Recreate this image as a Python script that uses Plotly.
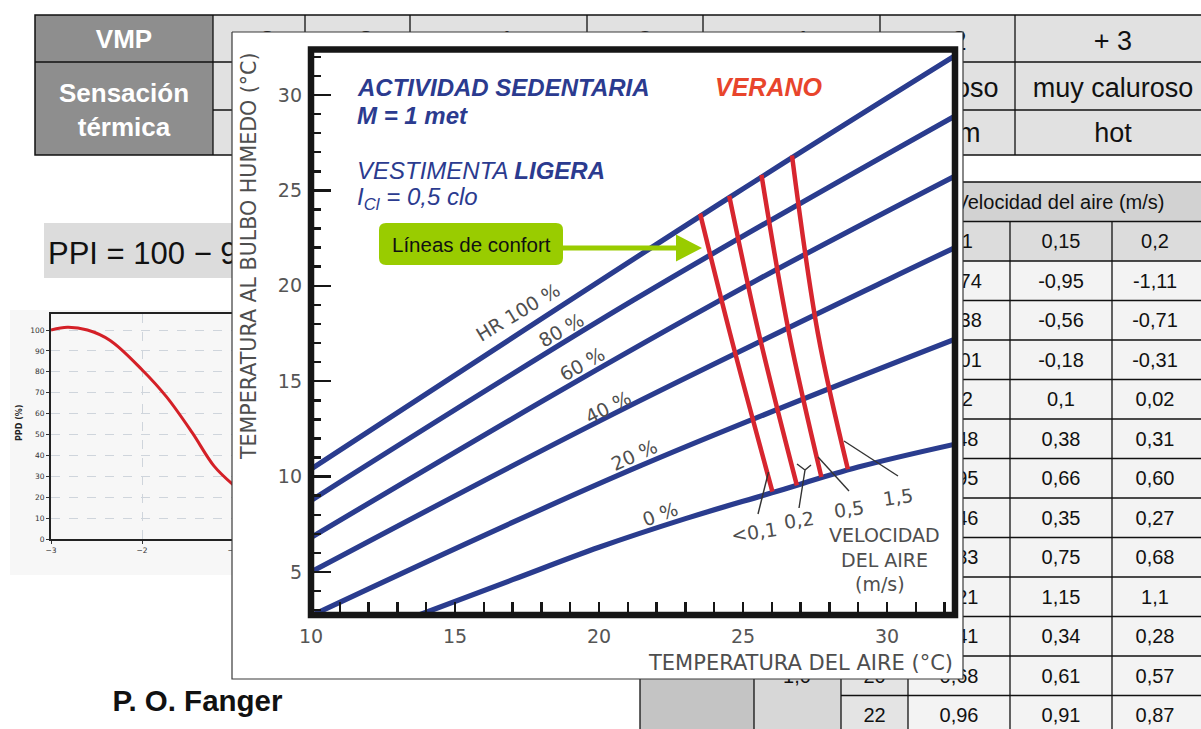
import plotly.graph_objects as go

W, H = 1201, 729

# ---------------- DATA ----------------
# top table (VMP / sensación térmica)
vmp_values = ["- 3", "- 2", "- 1", "0", "+ 1", "+ 2", "+ 3"]
sensacion_es = ["", "", "", "", "", "caluroso", "muy caluroso"]
sensacion_en = ["", "", "", "", "", "warm", "hot"]
ppi_text = "PPI = 100 − 9"

# PPD vs PMV curve (Fanger)
pmv = [-3.0, -2.82, -2.6, -2.35, -2.0, -1.73, -1.45, -1.21, -1.0]
ppd = [100, 101.3, 100, 95, 81, 68, 51, 35, 26]
ppd_yticks = [0, 10, 20, 30, 40, 50, 60, 70, 80, 90, 100]
ppd_xticks = [-3, -2, -1, 0, 1, 2, 3]

# right table: PMV by air velocity
vel_cols = ["0,1", "0,15", "0,2"]
pmv_v010 = ["-0,74", "-0,38", "-0,01", "0,2", "0,48", "0,95", "0,46", "0,83", "1,21", "0,41", "0,68", "0,96"]
pmv_v015 = ["-0,95", "-0,56", "-0,18", "0,1", "0,38", "0,66", "0,35", "0,75", "1,15", "0,34", "0,61", "0,91"]
pmv_v020 = ["-1,11", "-0,71", "-0,31", "0,02", "0,31", "0,60", "0,27", "0,68", "1,1", "0,28", "0,57", "0,87"]
temp_rows = ["20", "22"]
clo_value = "1,0"

# comfort chart: relative humidity lines (air temp -> wet bulb temp)
hr_labels = ["HR 100 %", "80 %", "60 %", "40 %", "20 %", "0 %"]
hr100_x = [10, 24.5, 32.36]
hr100_y = [10.4, 24.6, 32.05]
hr80_x = [10, 21.2, 32.36]
hr80_y = [8.75, 19.25, 28.9]
hr60_x = [10, 19, 25.49, 32.36]
hr60_y = [6.81, 14.8, 20.3, 25.75]
hr40_x = [10, 20, 30, 32.36]
hr40_y = [5.0, 12.9, 20.3, 22.0]
hr20_x = [10, 21.1, 32.36]
hr20_y = [2.71, 10.35, 17.2]
hr0_x = [13.75, 17, 20, 23, 26, 29, 32.36]
hr0_y = [2.75, 4.6, 6.3, 7.8, 9.15, 10.5, 11.7]

# comfort lines per air velocity
vel_labels = ["<0,1", "0,2", "0,5", "1,5"]
c01_x = [23.51, 24.55, 26.02]
c01_y = [23.78, 17.5, 9.21]
c02_x = [24.52, 25.55, 26.87]
c02_y = [24.72, 17.5, 9.54]
c05_x = [25.64, 26.6, 27.72]
c05_y = [25.81, 17.5, 9.98]
c15_x = [26.70, 27.6, 28.64]
c15_y = [26.83, 17.5, 10.39]

x_ticks = [10, 15, 20, 25, 30]
y_ticks = [5, 10, 15, 20, 25, 30]

# ---------------- STYLE ----------------
TF = "Liberation Sans, Arial, sans-serif"
CF = "DejaVu Sans, sans-serif"
BLUE = "#2a3c8e"
RED = "#d7262f"
NAVY = "#2b3b8f"
GRAY = "#4e4e4e"

fig = go.Figure()
shapes = []
annotations = []


def text_tr(xs, ys, texts, size, color="#111", family=TF, pos="middle center"):
    fig.add_trace(go.Scatter(x=xs, y=ys, text=texts, mode="text", textposition=pos,
                             textfont=dict(size=size, color=color, family=family),
                             hoverinfo="skip", showlegend=False, xaxis="x", yaxis="y",
                             cliponaxis=False))


def rect(x0, y0, x1, y1, fill=None, line=None, lw=1.2, layer="below"):
    shapes.append(dict(type="rect", xref="x", yref="y", x0=x0, y0=y0, x1=x1, y1=y1,
                       fillcolor=fill if fill else "rgba(0,0,0,0)",
                       line=dict(color=line if line else "rgba(0,0,0,0)", width=lw if line else 0),
                       layer=layer))


def seg(x0, y0, x1, y1, color="#111", lw=1.3, layer="below"):
    shapes.append(dict(type="line", xref="x", yref="y", x0=x0, y0=y0, x1=x1, y1=y1,
                       line=dict(color=color, width=lw), layer=layer))


# ---------- background: top table ----------
col_edges = [35, 213, 305, 410, 587, 703, 880, 1015, 1211]
rect(35, 15, 213, 155, fill="#8e8e8e")
rect(213, 15, 1215, 155, fill="#e1e1e1")
seg(35, 62, 1215, 62)
seg(213, 110, 1215, 110)
for xe in col_edges[1:-1]:
    seg(xe, 15, xe, 155)
rect(35, 15, 1215, 155, line="#111", lw=1.5)

centers = [(col_edges[i] + col_edges[i + 1]) / 2 for i in range(1, 8)]
text_tr([124, 124], [41.5, 112.5], ["<b>VMP</b>", "<b>Sensación<br>térmica</b>"], 26, color="white")
text_tr(centers, [43] * 7, vmp_values, 27)
text_tr([c for c, s in zip(centers, sensacion_es) if s], [90] * 2, [s for s in sensacion_es if s], 27)
text_tr([c for c, s in zip(centers, sensacion_en) if s], [135.5] * 2, [s for s in sensacion_en if s], 27)

# ---------- background: PPI formula ----------
rect(44, 223, 300, 278, fill="#dcdcdc")
text_tr([48], [256], [ppi_text], 31, pos="middle right")

# ---------- background: PPD chart ----------
rect(10, 310, 300, 575, fill="#f7f7f7")

# ---------- background: right table ----------
r0, rh = 182, 39.5
ry = [r0 + rh * k for k in range(15)]
rect(908, ry[0], 1215, ry[1], fill="#d2d2d2")
rect(908, ry[1], 1215, ry[2], fill="#dcdcdc")
rect(908, ry[2], 1215, 740, fill="#f3f3f3")
rect(640, 600, 754, 740, fill="#c4c4c4")
rect(754, 600, 841, 740, fill="#d7d7d7")
rect(841, 600, 908, 740, fill="#e4e4e4")
for k in range(14):
    seg(908 if k < 12 else 841, ry[k], 1215, ry[k])
for xe in [1010, 1112]:
    seg(xe, ry[1], xe, 740)
for xe in [640, 754, 841, 908]:
    seg(xe, 600 if xe != 908 else ry[0], xe, 740)

col_x = [959, 1061, 1155]
dy = 2.2
text_tr([1060], [ry[0] + rh / 2 + dy], ["Velocidad del aire (m/s)"], 20)
text_tr(col_x, [ry[1] + rh / 2 + dy] * 3, vel_cols, 20)
for cx, vals in zip(col_x, [pmv_v010, pmv_v015, pmv_v020]):
    text_tr([cx] * len(vals), [ry[k + 2] + rh / 2 + dy for k in range(len(vals))], vals, 20)
text_tr([874.5, 874.5], [ry[12] + rh / 2 + dy, ry[13] + rh / 2 + dy], temp_rows, 20)
text_tr([797], [ry[12] + rh / 2 + dy], [clo_value], 20)

text_tr([197.5], [704], ["<b>P. O. Fanger</b>"], 29.5)

# ---------- PPD curve (subplot 2) ----------
fig.add_trace(go.Scatter(x=pmv, y=ppd, mode="lines", line=dict(color="#d42027", width=3, shape="spline"),
                         hoverinfo="skip", showlegend=False, xaxis="x2", yaxis="y2"))

# ---------- overlay white box (subplot 3) ----------
fig.add_trace(go.Scatter(x=[232, 963, 963, 232, 232], y=[32, 32, 679, 679, 32], mode="lines",
                         fill="toself", fillcolor="white", line=dict(color="#3a3a3a", width=1.2),
                         hoverinfo="skip", showlegend=False, xaxis="x3", yaxis="y3"))

# ---------- comfort chart (subplot 4) ----------
for xs, ys in [(hr100_x, hr100_y), (hr80_x, hr80_y), (hr60_x, hr60_y), (hr40_x, hr40_y),
               (hr20_x, hr20_y), (hr0_x, hr0_y)]:
    fig.add_trace(go.Scatter(x=xs, y=ys, mode="lines", line=dict(color=BLUE, width=5.2, shape="spline"),
                             hoverinfo="skip", showlegend=False, xaxis="x4", yaxis="y4"))
for xs, ys in [(c01_x, c01_y), (c02_x, c02_y), (c05_x, c05_y), (c15_x, c15_y)]:
    fig.add_trace(go.Scatter(x=xs, y=ys, mode="lines", line=dict(color=RED, width=4.5, shape="spline"),
                             hoverinfo="skip", showlegend=False, xaxis="x4", yaxis="y4"))

# frame
rect(311, 49.5, 955, 615, line="#161616", lw=6.5, layer="above")

# green label box + arrow
x0, y0, x1, y1, r = 379, 223, 563, 265, 7
shapes.append(dict(type="path", xref="x", yref="y", layer="above", fillcolor="#99cc00", line=dict(width=0),
                   path=(f"M{x0+r},{y0} L{x1-r},{y0} Q{x1},{y0} {x1},{y0+r} L{x1},{y1-r} Q{x1},{y1} {x1-r},{y1} "
                         f"L{x0+r},{y1} Q{x0},{y1} {x0},{y1-r} L{x0},{y0+r} Q{x0},{y0} {x0+r},{y0} Z")))
shapes.append(dict(type="path", xref="x", yref="y", layer="above", fillcolor="#99cc00", line=dict(width=0),
                   path="M563,245.5 L676,245.5 L676,234.5 L702,248 L676,261.5 L676,250.5 L563,250.5 Z"))

# leader lines for velocity labels
for pts in [[(758, 514), (768.5, 472)],
            [(799, 508), (805, 470), (797, 464)],
            [(805, 470), (811, 465)],
            [(849, 491), (818, 457)],
            [(898, 476), (844, 441)]]:
    path = "M" + " L".join(f"{a},{b}" for a, b in pts)
    shapes.append(dict(type="path", xref="x", yref="y", layer="above", path=path,
                       line=dict(color="#333", width=1.4)))


def ann(text, x, y, size, color=GRAY, family=CF, angle=0, xanchor="center"):
    annotations.append(dict(text=text, x=x, y=y, xref="x", yref="y", showarrow=False,
                            font=dict(size=size, color=color, family=family), textangle=angle,
                            xanchor=xanchor, yanchor="middle"))


for (lbl, ax, ay, ang) in zip(hr_labels, [518, 561, 582, 608, 634, 660], [312, 330, 364, 407, 455, 514],
                              [-31, -30, -29, -27, -24, -20]):
    ann(lbl, ax, ay, 19, angle=ang)
for lbl, ax, ay in zip(vel_labels, [754, 799, 849, 898], [532, 520, 509, 497]):
    ann(lbl, ax, ay, 19, angle=-8)
ann("VELOCIDAD", 884, 535, 19)
ann("DEL AIRE", 884, 560, 19)
ann("(m/s)", 880, 584, 19)
ann("TEMPERATURA AL BULBO HUMEDO (°C)", 249, 256, 20.6, angle=-90)
ann("TEMPERATURA DEL AIRE (°C)", 800, 663, 21)

ann("<b><i>ACTIVIDAD SEDENTARIA</i></b>", 355, 87, 24, color=NAVY, family=TF, xanchor="left")
ann("<b><i>M = 1 met</i></b>", 355, 115, 24, color=NAVY, family=TF, xanchor="left")
ann("<i>VESTIMENTA <b>LIGERA</b></i>", 355, 170, 24, color=NAVY, family=TF, xanchor="left")
ann("<i>I<sub>Cl</sub> = 0,5 clo</i>", 355, 198, 24, color=NAVY, family=TF, xanchor="left")
ann("<b><i>VERANO</i></b>", 713, 87, 25, color="#e8452c", family=TF, xanchor="left")
ann("Líneas de confort", 471, 244, 20.5, color="#111", family=TF)

ann("<b>PPD (%)</b>", 19, 423, 8, color="#222", angle=-90)

# ---------------- LAYOUT ----------------
def px_dom_x(a, b):
    return [a / W, b / W]


def px_dom_y(top, bottom):
    return [1 - bottom / H, 1 - top / H]


hidden = dict(visible=False, showgrid=False, zeroline=False, fixedrange=True, automargin=False)

fig.update_layout(
    width=W, height=H, autosize=False,
    margin=dict(l=0, r=0, t=0, b=0, pad=0, autoexpand=False),
    paper_bgcolor="white", plot_bgcolor="rgba(0,0,0,0)",
    showlegend=False, hovermode=False,
    shapes=shapes, annotations=annotations,
    xaxis=dict(domain=[0, 1], range=[0, W], anchor="y", **hidden),
    yaxis=dict(domain=[0, 1], range=[H, 0], anchor="x", **hidden),
    xaxis2=dict(domain=px_dom_x(51, 597), range=[-3, 3], anchor="y2", tickvals=ppd_xticks,
                showline=True, linecolor="#222", linewidth=2, mirror=True, automargin=False,
                showgrid=True, gridcolor="#cfd5dc", griddash="dash", gridwidth=1, zeroline=False,
                ticks="outside", ticklen=3, tickcolor="#333",
                tickfont=dict(size=7.5, family=CF, color="#333"), fixedrange=True),
    yaxis2=dict(domain=px_dom_y(314, 539), range=[0, 107.66], anchor="x2", tickvals=ppd_yticks,
                showline=True, linecolor="#222", linewidth=2, mirror=True, automargin=False,
                showgrid=True, gridcolor="#cfd5dc", griddash="dash", gridwidth=1, zeroline=False,
                ticks="outside", ticklen=3, tickcolor="#333",
                tickfont=dict(size=7.5, family=CF, color="#333"), fixedrange=True),
    xaxis3=dict(domain=[0, 1], range=[0, W], anchor="y3", **hidden),
    yaxis3=dict(domain=[0, 1], range=[H, 0], anchor="x3", **hidden),
    xaxis4=dict(domain=px_dom_x(311, 955), range=[10, 32.36], anchor="y4", tickvals=x_ticks,
                showgrid=False, zeroline=False, showline=False, automargin=False,
                ticks="inside", ticklen=13, tickwidth=2.5, tickcolor="#161616",
                minor=dict(ticks="inside", dtick=1, tick0=10, ticklen=13, tickwidth=2.5, tickcolor="#161616",
                           showgrid=False),
                ticklabelstandoff=8, tickfont=dict(size=19, family=CF, color="#555"), fixedrange=True),
    yaxis4=dict(domain=px_dom_y(49.5, 615), range=[2.75, 32.38], anchor="x4", tickvals=y_ticks,
                showgrid=False, zeroline=False, showline=False, automargin=False,
                ticks="inside", ticklen=20, tickwidth=2.5, tickcolor="#161616",
                minor=dict(ticks="inside", dtick=1, tick0=0, ticklen=10, tickwidth=2.5, tickcolor="#161616",
                           showgrid=False),
                ticklabelstandoff=8, tickfont=dict(size=19, family=CF, color="#555"), fixedrange=True),
)

fig.write_html("out.html", config={"displayModeBar": False, "staticPlot": True},
               post_script="document.body.style.margin='0';document.body.style.overflow='hidden';")
